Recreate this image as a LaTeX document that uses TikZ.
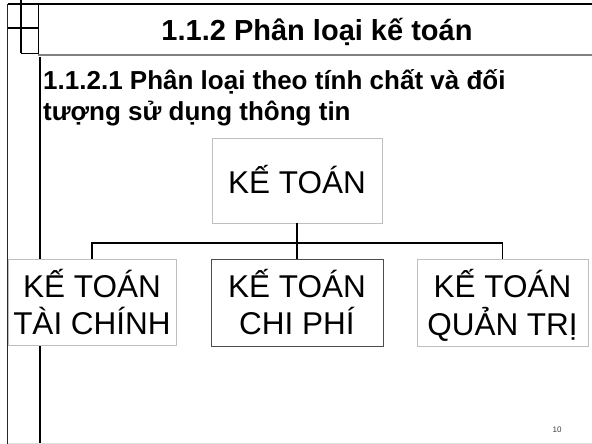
\documentclass[tikz,border=0pt]{standalone}
\usepackage{fontspec}
\setmainfont{Liberation Sans}
\usetikzlibrary{shadows}

\begin{document}
\begin{tikzpicture}[x=1pt, y=-1pt,
  framethick/.style={line width=2pt, black},
  framethin/.style={line width=1pt, black},
  catbox/.style={draw=black!25, fill=white, line width=0.8pt, inner sep=0pt,
    drop shadow={shadow xshift=1.4pt, shadow yshift=-1.4pt, fill=black!35, opacity=0.6}},
  boxtext/.style={inner sep=0pt, font=\fontsize{31.5}{35}\selectfont},
  link/.style={line width=1.3pt, black},
  trunk/.style={line width=2pt, black}]

\useasboundingbox (0,0) rectangle (592,444);
\fill[white] (0,0) rectangle (592,444);

% slide frame and corner marks
\draw[framethick] (7.5,4) -- (592,4);
\draw[line width=1.2pt, black!85] (7.5,4) -- (7.5,444);
\draw[framethick] (21,0) -- (21,53.5);
\draw[framethick] (7.5,27.7) -- (38.3,27.7);
\draw[framethin] (38.3,4) -- (38.3,54);
\draw[framethin] (21,53.5) -- (38.3,53.5);
\draw[line width=1.2pt, black!50] (38.3,55) -- (592,55);
\draw[line width=2.2pt, black] (40,57) -- (40,444);
\draw[line width=1pt, black!12] (7.5,443) -- (592,443);

% headings
\node[anchor=base, inner sep=0pt, font=\fontsize{29}{33}\selectfont\bfseries] (title)
  at (317,41) {1.1.2 Phân loại kế toán};
\node[anchor=base west, inner sep=0pt, font=\fontsize{26}{31.5}\selectfont\bfseries] (subtitle)
  at (43,89) {\begin{tabular}[t]{@{}l@{}}1.1.2.1 Phân loại theo tính chất và đối\\tượng sử dụng thông tin\end{tabular}};

% category boxes
\node[catbox, minimum width=170pt, minimum height=85pt] (root) at (297,180.5) {};
\node[catbox, minimum width=168pt, minimum height=86pt] (fin) at (92,302) {};
\node[catbox, draw=black!70, minimum width=172pt, minimum height=87pt] (cost) at (297,302.5) {};
\node[catbox, minimum width=171pt, minimum height=87pt] (mgmt) at (502.5,302.5) {};

\node[boxtext, anchor=base] (rootlabel) at (297,193) {KẾ TOÁN};
\node[boxtext, anchor=base] (finlabel) at (92,297)
  {\begin{tabular}[t]{@{}c@{}}KẾ TOÁN\\TÀI CHÍNH\end{tabular}};
\node[boxtext, anchor=base] (costlabel) at (297,297)
  {\begin{tabular}[t]{@{}c@{}}KẾ TOÁN\\CHI PHÍ\end{tabular}};
\node[boxtext, anchor=base] (mgmtlabel) at (502.5,297)
  {\begin{tabular}[t]{@{}c@{}}KẾ TOÁN\\QUẢN TRỊ\end{tabular}};

% connectors
\coordinate (bar) at (297,243);
\draw[link] (fin.north) -- (fin.north |- bar) -- (mgmt.north |- bar) -- (mgmt.north);
\draw[trunk] (root.south) -- (cost.north);

% page number
\node[inner sep=0pt, font=\fontsize{8}{10}\selectfont, text=black!75] (pageno) at (557,430) {10};
\end{tikzpicture}
\end{document}
